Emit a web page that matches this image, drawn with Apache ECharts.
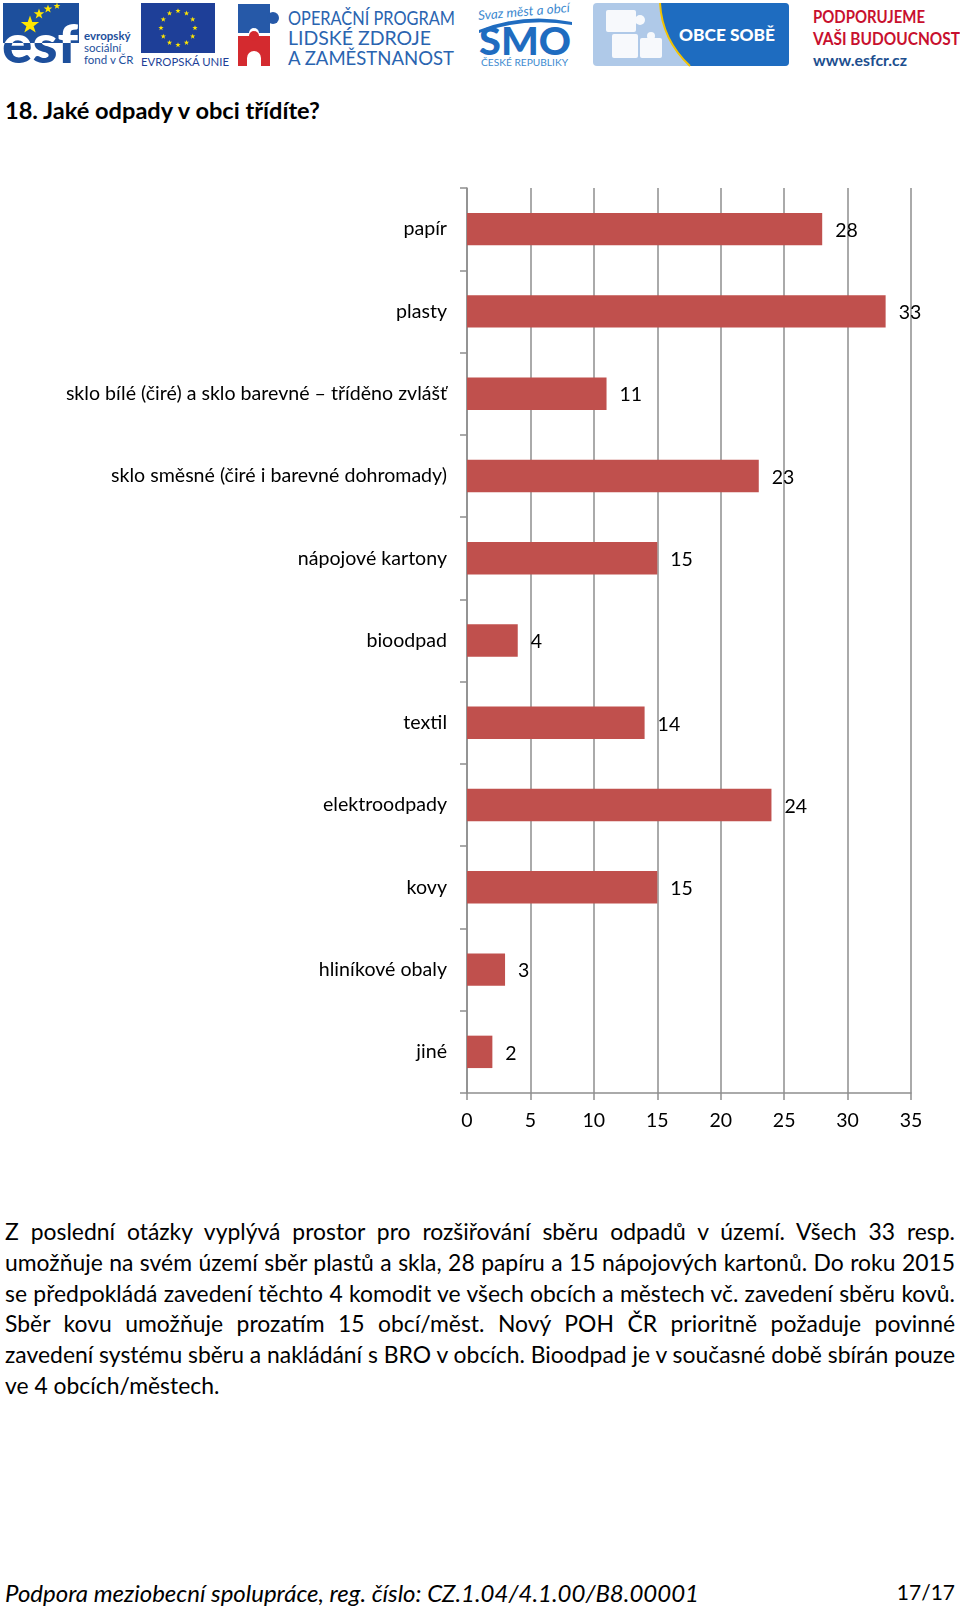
<!DOCTYPE html>
<html>
<head>
<meta charset="utf-8">
<script src="https://cdn.jsdelivr.net/npm/echarts@6/dist/echarts.min.js"></script>
<style>
  html, body { margin: 0; padding: 0; background: #fff; }
  #page { position: relative; width: 960px; height: 1608px; overflow: hidden; font-family: Lato, "Liberation Sans", sans-serif; color: #000; }
  #header { position: absolute; left: 0; top: 0; }
  #title { position: absolute; left: 5px; top: 96px; font-weight: bold; font-size: 23.6px; white-space: nowrap; }
  #chart { position: absolute; left: 0; top: 150px; width: 960px; height: 1000px; }
  #body { position: absolute; left: 5px; top: 1216px; width: 950px; font-size: 22.9px; line-height: 30.8px; }
  #body .j { text-align: justify; text-align-last: justify; white-space: nowrap; }
  #body .l { text-align: left; white-space: nowrap; }
  #footer { position: absolute; left: 5px; top: 1578px; width: 950px; font-size: 24px; font-style: italic; }
  #footer .r { position: absolute; right: 0; top: 1px; font-style: normal; font-size: 21px; }
</style>
</head>
<body>
<div id="page">
  <svg id="header" width="960" height="72" viewBox="0 0 960 72" xmlns="http://www.w3.org/2000/svg" font-family="Lato, 'Liberation Sans', sans-serif">
    <defs>
      <clipPath id="inBox"><rect x="3" y="3" width="76" height="40"/></clipPath>
      <clipPath id="outBox"><path d="M0 0 H960 V72 H0 Z M3 3 V43 H79 V3 Z" clip-rule="evenodd"/></clipPath>
      <g id="star"><polygon points="0,-5 1.2,-1.6 4.8,-1.6 1.9,0.6 3,4 0,2 -3,4 -1.9,0.6 -4.8,-1.6 -1.2,-1.6" fill="#ffe600"/></g>
    </defs>
    <!-- ESF -->
    <rect x="3" y="3" width="76" height="40" fill="#1d4f9c"/>
    <g transform="translate(30,25) scale(1.9)"><use href="#star"/></g>
    <g transform="translate(39,14) scale(1.1)"><use href="#star"/></g>
    <g transform="translate(48,9) scale(0.9)"><use href="#star"/></g>
    <g transform="translate(57,6) scale(0.7)"><use href="#star"/></g>
    <text x="2" y="63" font-size="54" font-weight="900" fill="#fff" clip-path="url(#inBox)" textLength="76" lengthAdjust="spacingAndGlyphs">esf</text>
    <text x="2" y="63" font-size="54" font-weight="900" fill="#1d4f9c" clip-path="url(#outBox)" textLength="76" lengthAdjust="spacingAndGlyphs">esf</text>
    <text x="84" y="40" font-size="11.5" font-weight="bold" fill="#1d4f9c">evropský</text>
    <text x="84" y="52" font-size="11.5" fill="#1d4f9c">sociální</text>
    <text x="84" y="64" font-size="11.5" fill="#1d4f9c">fond v ČR</text>
    <!-- EU -->
    <rect x="141" y="3" width="74" height="50" fill="#1e3f98"/>
    <g fill="#ffe600">
      <use href="#star" transform="translate(178,11) scale(0.55)"/>
      <use href="#star" transform="translate(186.5,13.3) scale(0.55)"/>
      <use href="#star" transform="translate(192.7,19.5) scale(0.55)"/>
      <use href="#star" transform="translate(195,28) scale(0.55)"/>
      <use href="#star" transform="translate(192.7,36.5) scale(0.55)"/>
      <use href="#star" transform="translate(186.5,42.7) scale(0.55)"/>
      <use href="#star" transform="translate(178,45) scale(0.55)"/>
      <use href="#star" transform="translate(169.5,42.7) scale(0.55)"/>
      <use href="#star" transform="translate(163.3,36.5) scale(0.55)"/>
      <use href="#star" transform="translate(161,28) scale(0.55)"/>
      <use href="#star" transform="translate(163.3,19.5) scale(0.55)"/>
      <use href="#star" transform="translate(169.5,13.3) scale(0.55)"/>
    </g>
    <text x="141" y="66" font-size="10.5" fill="#1e3f98" textLength="88" lengthAdjust="spacingAndGlyphs">EVROPSKÁ UNIE</text>
    <!-- OP LZZ -->
    <rect x="238" y="4" width="32" height="29" fill="#2659a8"/>
    <circle cx="273" cy="18" r="6" fill="#2659a8"/>
    <circle cx="254" cy="33" r="5" fill="#fff"/>
    <rect x="238" y="36" width="32" height="30" fill="#d42a2f"/>
    <circle cx="254" cy="36" r="5" fill="#d42a2f"/>
    <path d="M247 66 V58 A7 7 0 0 1 261 58 V66 Z" fill="#fff"/>
    <g font-size="19" fill="#2a64b0">
      <text x="288" y="25" textLength="167" lengthAdjust="spacingAndGlyphs">OPERAČNÍ PROGRAM</text>
      <text x="288" y="45" textLength="143" lengthAdjust="spacingAndGlyphs">LIDSKÉ ZDROJE</text>
      <text x="288" y="65" textLength="166" lengthAdjust="spacingAndGlyphs">A ZAMĚSTNANOST</text>
    </g>
    <!-- SMO -->
    <text x="478" y="16" font-size="13" font-style="italic" fill="#3d8ad0" textLength="92" lengthAdjust="spacingAndGlyphs" transform="rotate(-5 524 12)">Svaz měst a obcí</text>
    <path d="M479 30 Q525 12 572 22 L572 25 Q525 17 479 33 Z" fill="#1f6cc0"/>
    <text x="479" y="55" font-size="38" font-weight="900" fill="#1f6cc0" textLength="92" lengthAdjust="spacingAndGlyphs">SMO</text>
    <text x="481" y="66" font-size="9.5" fill="#3d8ad0" textLength="87" lengthAdjust="spacingAndGlyphs">ČESKÉ REPUBLIKY</text>
    <!-- OBCE SOBE -->
    <rect x="593" y="3" width="196" height="63" rx="4" fill="#afc9e8"/>
    <path d="M660 3 H785 Q789 3 789 7 V62 Q789 66 785 66 H690 Q662 40 660 3 Z" fill="#1e6cc0"/>
    <path d="M660 3 Q662 40 690 66" stroke="#f2c200" stroke-width="2" fill="none"/>
    <g fill="#fff" opacity="0.9">
      <rect x="606" y="10" width="30" height="22" rx="2"/>
      <circle cx="640" cy="20" r="5"/>
      <rect x="612" y="34" width="26" height="24" rx="2"/>
      <rect x="640" y="38" width="22" height="20" rx="2"/>
      <circle cx="651" cy="36" r="4"/>
    </g>
    <text x="727" y="41" font-size="17" font-weight="900" fill="#fff" text-anchor="middle" textLength="96" lengthAdjust="spacingAndGlyphs">OBCE SOBĚ</text>
    <!-- Podporujeme -->
    <text x="813" y="23" font-size="16.5" font-weight="bold" fill="#c8102e" textLength="112" lengthAdjust="spacingAndGlyphs">PODPORUJEME</text>
    <text x="813" y="45" font-size="16.5" font-weight="bold" fill="#c8102e" textLength="147" lengthAdjust="spacingAndGlyphs">VAŠI BUDOUCNOST</text>
    <text x="813" y="66" font-size="16" font-weight="bold" fill="#1d4f8f" textLength="94" lengthAdjust="spacingAndGlyphs">www.esfcr.cz</text>
  </svg>

  <div id="title">18. Jaké odpady v obci třídíte?</div>
  <div id="chart"></div>

  <div id="body">
    <div class="j">Z poslední otázky vyplývá prostor pro rozšiřování sběru odpadů v území. Všech 33 resp.</div>
    <div class="j">umožňuje na svém území sběr plastů a skla, 28 papíru a 15 nápojových kartonů. Do roku 2015</div>
    <div class="j">se předpokládá zavedení těchto 4 komodit ve všech obcích a městech vč. zavedení sběru kovů.</div>
    <div class="j">Sběr kovu umožňuje prozatím 15 obcí/měst. Nový POH ČR prioritně požaduje povinné</div>
    <div class="j">zavedení systému sběru a nakládání s BRO v obcích. Bioodpad je v současné době sbírán pouze</div>
    <div class="l">ve 4 obcích/městech.</div>
  </div>

  <div id="footer">Podpora meziobecní spolupráce, reg. číslo: CZ.1.04/4.1.00/B8.00001<span class="r">17/17</span></div>
</div>

<script>
const categories = [
  'papír',
  'plasty',
  'sklo bílé (čiré) a sklo barevné – tříděno zvlášť',
  'sklo směsné (čiré i barevné dohromady)',
  'nápojové kartony',
  'bioodpad',
  'textil',
  'elektroodpady',
  'kovy',
  'hliníkové obaly',
  'jiné'
];
const counts = [28, 33, 11, 23, 15, 4, 14, 24, 15, 3, 2];
const axisMin = 0;
const axisMax = 35;
const axisStep = 5;

const FONT = 'Lato, "Liberation Sans", sans-serif';
const GRID_COLOR = '#8e8e8e';

const chart = echarts.init(document.getElementById('chart'), null, { renderer: 'canvas' });
chart.setOption({
  animation: false,
  backgroundColor: 'transparent',
  grid: { left: 467, top: 38, width: 444, height: 905, containLabel: false },
  xAxis: {
    type: 'value',
    min: axisMin,
    max: axisMax,
    interval: axisStep,
    position: 'bottom',
    axisLine: { show: true, lineStyle: { color: GRID_COLOR, width: 1.5 } },
    axisTick: { show: true, length: 7, lineStyle: { color: GRID_COLOR, width: 1.5 } },
    axisLabel: { margin: 18, fontSize: 19.5, color: '#000', fontFamily: FONT },
    splitLine: { show: true, lineStyle: { color: GRID_COLOR, width: 1.5 } }
  },
  yAxis: {
    type: 'category',
    data: categories,
    inverse: true,
    axisLine: { show: true, lineStyle: { color: GRID_COLOR, width: 1.5 } },
    axisTick: { show: true, length: 7, lineStyle: { color: GRID_COLOR, width: 1.5 } },
    axisLabel: { margin: 20, fontSize: 19.6, color: '#000', fontFamily: FONT },
    splitLine: { show: false }
  },
  series: [{
    type: 'bar',
    data: counts,
    barWidth: '39.4%',
    itemStyle: { color: '#C0504D' },
    label: {
      show: true,
      position: 'right',
      distance: 13,
      fontSize: 19.5,
      color: '#000',
      fontFamily: FONT,
      offset: [0, 1.5]
    }
  }]
});
</script>
</body>
</html>
